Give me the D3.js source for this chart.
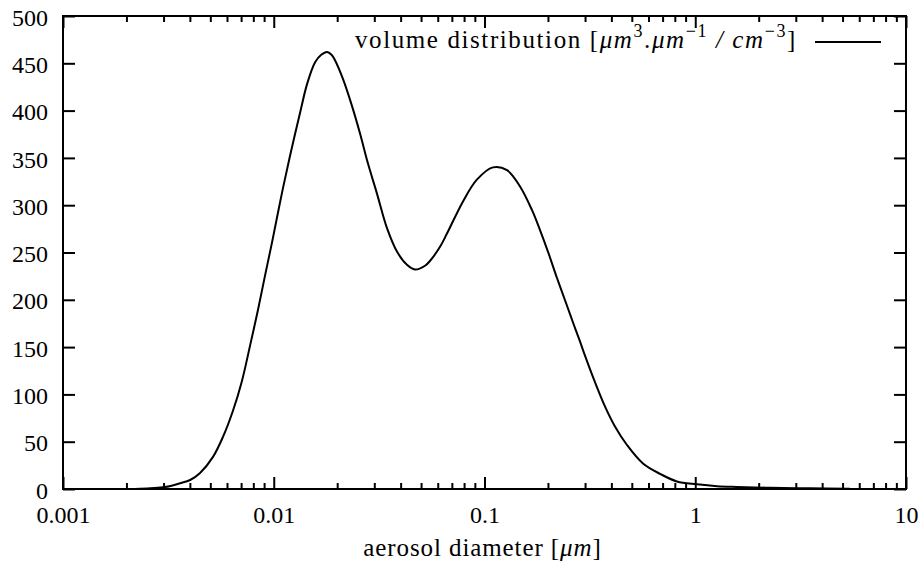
<!DOCTYPE html>
<html>
<head>
<meta charset="utf-8">
<script src="https://cdn.jsdelivr.net/npm/d3@7"></script>
<style>
  body { margin: 0; background: #fff; }
  .axis path { display: none; }
  .axis line { stroke: #000; stroke-width: 2; }
</style>
</head>
<body>
<div id="chart"></div>
<script>
// aerosol diameter [um]
var diameter = [0.0022, 0.00259, 0.00305, 0.00359, 0.00401, 0.00447, 0.00515, 0.00574, 0.00641, 0.00706,
  0.00771, 0.00841, 0.00908, 0.00982, 0.01047, 0.01106, 0.01194, 0.01334, 0.01439, 0.01571,
  0.0168, 0.01791, 0.0188, 0.01955, 0.02134, 0.0235, 0.02565, 0.028, 0.03091, 0.03443, 0.03843, 0.04285,
  0.04677, 0.05223, 0.05508, 0.06151, 0.06637, 0.07907, 0.092, 0.1096, 0.1279, 0.1472,
  0.1679, 0.1832, 0.2, 0.2208, 0.2461, 0.263, 0.2838, 0.2998, 0.3343, 0.3733,
  0.416, 0.4743, 0.5649, 0.6809, 0.8185, 1.019, 1.268, 1.578, 2.264, 3.505, 5.42];
// volume distribution [um^3.um^-1/cm^-3]
var volume = [0, 0.8, 2, 6, 9.5, 17, 34, 55, 83, 114,
  151, 189, 225, 261, 292, 318, 352, 398, 428, 451,
  459, 462, 459, 453, 433, 405, 376, 344, 312, 276, 251, 237,
  232, 236, 241, 256, 270, 304, 327, 340, 337, 320,
  295, 274, 251, 223, 194, 176, 156, 141, 113, 87,
  66, 46.5, 27, 16, 8, 5, 3, 2.2, 1.3, 0.7, 0.3];

var xMajor = [0.001, 0.01, 0.1, 1, 10];
var xMajorLabels = ["0.001", "0.01", "0.1", "1", "10"];
var yMajor = [0, 50, 100, 150, 200, 250, 300, 350, 400, 450, 500];

var FONT = "'Liberation Serif', 'Times New Roman', 'DejaVu Serif', serif";

var W = 924, H = 570;
var margin = {top: 16, right: 18, bottom: 81, left: 63},
  width = W - margin.left - margin.right,
  height = H - margin.top - margin.bottom;

var svg = d3.select("#chart").append("svg")
    .attr("width", W)
    .attr("height", H)
  .append("g")
    .attr("transform", "translate(" + margin.left + "," + margin.top + ")");

var x = d3.scaleLog()
    .domain([0.001, 10])
    .range([0, width]);

var y = d3.scaleLinear()
    .domain([0, 500])
    .range([height, 0]);

// minor ticks 2..9 per decade
var xMinor = [];
xMajor.slice(0, -1).forEach(function(m){
  for (var k = 2; k <= 9; k++) { xMinor.push(m * k); }
});

// bottom axis: major with labels, minor without
svg.append("g")
    .attr("class", "axis")
    .attr("transform", "translate(0," + height + ")")
    .call(d3.axisBottom(x).tickValues(xMajor).tickSize(-12).tickPadding(17)
      .tickFormat(function(d, i){ return xMajorLabels[i]; }))
    .selectAll("text").attr("font-family", FONT).attr("font-size", 24);
svg.append("g")
    .attr("class", "axis")
    .attr("transform", "translate(0," + height + ")")
    .call(d3.axisBottom(x).tickValues(xMinor).tickSize(-6).tickFormat(""));
// top mirror
svg.append("g")
    .attr("class", "axis")
    .call(d3.axisTop(x).tickValues(xMajor).tickSize(-12).tickFormat(""));
svg.append("g")
    .attr("class", "axis")
    .call(d3.axisTop(x).tickValues(xMinor).tickSize(-6).tickFormat(""));

// left + right
svg.append("g")
    .attr("class", "axis")
    .call(d3.axisLeft(y).tickValues(yMajor).tickSize(-12).tickPadding(15))
    .selectAll("text").attr("font-family", FONT).attr("font-size", 24).attr("dy", "0.38em");
svg.append("g")
    .attr("class", "axis")
    .attr("transform", "translate(" + width + ",0)")
    .call(d3.axisRight(y).tickValues(yMajor).tickSize(-12).tickFormat(""));

// frame
svg.append("rect")
    .attr("width", width)
    .attr("height", height)
    .attr("fill", "none")
    .attr("stroke", "#000")
    .attr("stroke-width", 2);

var pts = diameter.map(function(d, i){ return [d, volume[i]]; });
var line = d3.line()
    .x(function(d){ return x(d[0]); })
    .y(function(d){ return y(d[1]); })
    .curve(d3.curveCatmullRom.alpha(0.5));

svg.append("path")
    .datum(pts)
    .attr("d", line)
    .attr("fill", "none")
    .attr("stroke", "#000")
    .attr("stroke-width", 2);

// x axis title
var xt = svg.append("text")
    .attr("x", x(0.1) - 2)
    .attr("y", height + 67)
    .attr("text-anchor", "middle")
    .attr("font-family", FONT)
    .attr("font-size", 25)
    .attr("letter-spacing", 0.9);
xt.append("tspan").text("aerosol diameter [");
xt.append("tspan").attr("font-style", "italic").text("μm");
xt.append("tspan").text("]");

// legend
var lg = svg.append("text")
    .attr("x", 734)
    .attr("y", 32)
    .attr("text-anchor", "end")
    .attr("font-family", FONT)
    .attr("font-size", 25)
    .attr("letter-spacing", 1.6);
lg.append("tspan").text("volume distribution [");
lg.append("tspan").attr("font-style", "italic").text("μm");
lg.append("tspan").attr("dy", -11).attr("font-size", 18).text("3");
lg.append("tspan").attr("dy", 11).text(".");
lg.append("tspan").attr("font-style", "italic").text("μm");
lg.append("tspan").attr("dy", -11).attr("font-size", 18).text("−1");
lg.append("tspan").attr("dy", 11).attr("font-style", "italic").text(" / cm");
lg.append("tspan").attr("dy", -11).attr("font-size", 18).text("−3");
lg.append("tspan").attr("dy", 11).text("]");

svg.append("line")
    .attr("x1", 752)
    .attr("x2", 818)
    .attr("y1", 26)
    .attr("y2", 26)
    .attr("stroke", "#000")
    .attr("stroke-width", 2);
</script>
</body>
</html>
